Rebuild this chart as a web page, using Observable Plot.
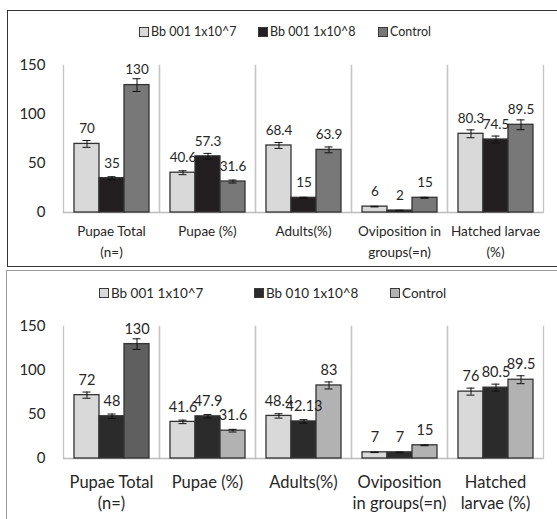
<!DOCTYPE html>
<html>
<head>
<meta charset="utf-8">
<script src="https://cdn.jsdelivr.net/npm/d3@7"></script>
<script src="https://cdn.jsdelivr.net/npm/@observablehq/plot@0.6"></script>
<style>
  html, body { margin: 0; padding: 0; background: #fff; }
  #page { position: relative; width: 557px; height: 519px; overflow: hidden; background: #fff; font-family: Lato, "Open Sans", sans-serif; color: #222; }
  .panel { position: absolute; box-sizing: border-box; }
  .chart { position: absolute; left: 0; }
  .legend-item { position: absolute; display: flex; align-items: center; white-space: nowrap; color: #262626; }
  .sw { display: inline-block; box-sizing: border-box; border: 1px solid #3a3a3a; margin-right: 2px; }
</style>
</head>
<body>
<div id="page">
  <div class="panel" style="left:7px; top:10px; width:600px; height:257px; border:1.5px solid #333;"></div>
  <div class="panel" style="left:6px; top:270px; width:600px; height:300px; border:1.5px solid #9a9a9a;"></div>
</div>
<script>
// ---------- Data: top panel ----------
const topSeries = ["Bb 001 1x10^7", "Bb 001 1x10^8", "Control"];
const topCategories = ["Pupae Total\n(n=)", "Pupae (%)", "Adults(%)", "Oviposition in\ngroups(=n)", "Hatched larvae\n(%)"];
const topS1 = [70, 40.6, 68.4, 6, 80.3];
const topS2 = [35, 57.3, 15, 2, 74.5];
const topS3 = [130, 31.6, 63.9, 15, 89.5];
const topE1 = [3.5, 2, 3, 0.3, 4];
const topE2 = [1.5, 3, 0.5, 0.2, 3.5];
const topE3 = [6.5, 1.5, 3, 0.5, 5];

// ---------- Data: bottom panel ----------
const botSeries = ["Bb 001 1x10^7", "Bb 010 1x10^8", "Control"];
const botCategories = ["Pupae Total\n(n=)", "Pupae (%)", "Adults(%)", "Oviposition\nin groups(=n)", "Hatched\nlarvae (%)"];
const botS1 = [72, 41.6, 48.4, 7, 76];
const botS2 = [48, 47.9, 42.13, 7, 80.5];
const botS3 = [130, 31.6, 83, 15, 89.5];
const botE1 = [3.5, 2, 2.5, 0.3, 4];
const botE2 = [2.5, 2, 2, 0.3, 4];
const botE3 = [6, 1.5, 4, 0.5, 4.5];

const yTicks = [0, 50, 100, 150];

function buildRows(cats, names, vals, errs) {
  const rows = [];
  cats.forEach((c, i) => {
    names.forEach((s, j) => {
      rows.push({cat: c, series: s, value: vals[j][i], err: errs[j][i], ci: i, si: j});
    });
  });
  return rows;
}

function makeChart(opts) {
  const rows = buildRows(opts.cats, opts.names, opts.vals, opts.errs);
  return Plot.plot({
    width: 557,
    height: opts.height,
    marginLeft: 61,
    marginRight: 13,
    marginTop: opts.marginTop,
    marginBottom: opts.marginBottom,
    style: {background: "transparent", fontFamily: "Lato, 'Open Sans', sans-serif", color: "#222", overflow: "visible"},
    fx: {domain: opts.cats, padding: 0},
    x: {domain: opts.names, paddingInner: 0, paddingOuter: 0.35, axis: null},
    y: {domain: [0, 150]},
    marks: [
      Plot.frame({anchor: "left", stroke: "#c4c4c4", strokeWidth: 1.3}),
      Plot.frame({anchor: "right", stroke: "#c4c4c4", strokeWidth: 1.3}),
      Plot.ruleY([0], {stroke: "#bdbdbd", strokeWidth: 1.5}),
      Plot.barY(rows, {fx: "cat", x: "series", y: "value", fill: opts.fill, stroke: "#333", strokeWidth: 1.3}),
      Plot.ruleX(rows, {fx: "cat", x: "series", y1: d => d.value - d.err, y2: d => d.value + d.err, stroke: "#111", strokeWidth: 1}),
      Plot.tickY(rows, {fx: "cat", x: "series", y: d => d.value + d.err, insetLeft: 8.5, insetRight: 8.5, stroke: "#111", strokeWidth: 1}),
      Plot.tickY(rows, {fx: "cat", x: "series", y: d => d.value - d.err, insetLeft: 8.5, insetRight: 8.5, stroke: "#111", strokeWidth: 1}),
      Plot.text(rows, {fx: "cat", x: "series", y: "value", text: d => String(d.value), dy: -15, fontSize: opts.valFont, fill: "#262626"}),
      Plot.axisY({ticks: yTicks, tickSize: 0, tickPadding: 18, fontSize: 15, label: null, fill: "#262626"}),
      Plot.axisFx({anchor: "bottom", tickSize: 0, tickPadding: opts.catPad, fontSize: opts.catFont, lineHeight: opts.catLH, label: null, fill: "#262626"})
    ]
  });
}

function addLegend(page, names, colors, top, lefts, fontSize) {
  names.forEach((n, i) => {
    const item = document.createElement("div");
    item.className = "legend-item";
    item.style.left = lefts[i] + "px";
    item.style.top = (top - fontSize * 0.7) + "px";
    item.style.fontSize = fontSize + "px";
    item.style.lineHeight = (fontSize * 1.4) + "px";
    const sw = document.createElement("span");
    sw.className = "sw";
    sw.style.width = "10px";
    sw.style.height = "10px";
    sw.style.background = colors[i];
    item.appendChild(sw);
    const t = document.createElement("span");
    t.textContent = n;
    item.appendChild(t);
    page.appendChild(item);
  });
}

const page = document.getElementById("page");

// Top panel
const topColors = ["#d9d9d9", "#231f20", "#787878"];
const topChart = makeChart({
  cats: topCategories, names: topSeries,
  vals: [topS1, topS2, topS3], errs: [topE1, topE2, topE3],
  height: 266, marginTop: 65, marginBottom: 54,
  valFont: 13.5, catFont: 13.5, catPad: 8, catLH: 1.6,
  fill: d => topColors[d.si]
});
topChart.classList.add("chart");
topChart.style.top = "0px";
page.appendChild(topChart);
addLegend(page, topSeries, topColors, 32, [139, 258, 378], 12.5);

// Bottom panel
const botColors = ["#d9d9d9", "#2b2b2b", "#b2b2b2"];
const botChart = makeChart({
  cats: botCategories, names: botSeries,
  vals: [botS1, botS2, botS3], errs: [botE1, botE2, botE3],
  height: 249, marginTop: 56, marginBottom: 61,
  valFont: 14.5, catFont: 16.5, catPad: 15, catLH: 1.27,
  fill: d => (d.si === 2 && d.ci === 0) ? "#5f5f5f" : botColors[d.si]
});
botChart.classList.add("chart");
botChart.style.top = "270px";
page.appendChild(botChart);
addLegend(page, botSeries, botColors, 293, [99, 254, 390], 13.5);
</script>
</body>
</html>
